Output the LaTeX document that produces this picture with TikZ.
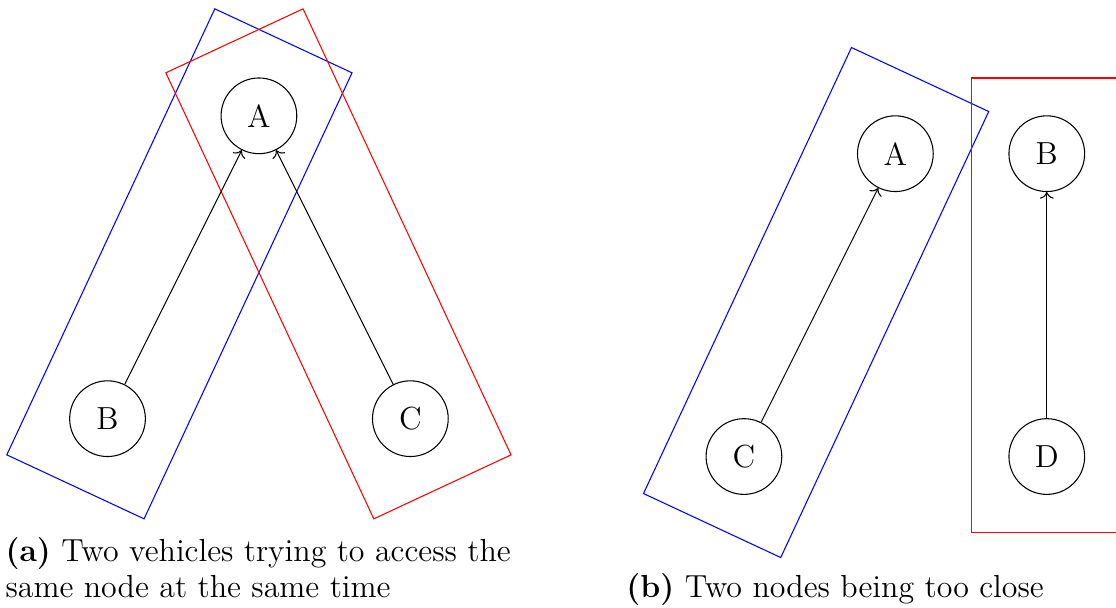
\documentclass[tikz,border=0pt]{standalone}
\usepackage{tikz}
\usetikzlibrary{arrows.meta,positioning}

\begin{document}
\begin{tikzpicture}[
    node distance=4cm and 2cm, on grid,
    vertex/.style={draw=black, circle, minimum size=1cm, inner sep=0pt, font=\fontsize{12}{14.5}\selectfont},
    arrow/.style={->},
    zoneblue/.style={draw=blue},
    zonered/.style={draw=red},
    caption/.style={inner sep=0pt, align=left, font=\fontsize{12}{13.6}\selectfont}
]
  \useasboundingbox (0,0) rectangle (14.74,8.03);

  % (a) Nodes
  \node (b1) [vertex] at (1.42,2.5) {B};
  \node (c1) [vertex, right=4cm of b1] {C};
  \node (a1) [vertex, above right=of b1] {A};

  % (a) Zones
  \draw [zoneblue, shift={(2.37,4.545)}, rotate=65] (-3.25,-1) rectangle (3.25,1);
  \draw [zonered, shift={(4.47,4.545)}, rotate=-65] (-3.25,-1) rectangle (3.25,1);

  % (a) Arrows
  \draw [arrow] (b1) -- (a1);
  \draw [arrow] (c1) -- (a1);

  % (b) Nodes
  \node (c2) [vertex] at (9.826,2.0) {C};
  \node (a2) [vertex, above right=of c2] {A};
  \node (b2) [vertex, right=2cm of a2] {B};
  \node (d2) [vertex, below=of b2] {D};

  % (b) Zones
  \draw [zoneblue, shift={(10.779,4.034)}, rotate=65] (-3.25,-1) rectangle (3.25,1);
  \draw [zonered] (12.826,1.0) rectangle (14.826,7.0);

  % (b) Arrows
  \draw [arrow] (c2) -- (a2);
  \draw [arrow] (d2) -- (b2);

  % Captions
  \node (capa) [caption, anchor=base west] at (0.066,0.136)
    {\textbf{(a)} Two vehicles trying to access the\\same node at the same time};
  \node (capb) [caption, anchor=base] at (11.03,0.136)
    {\textbf{(b)} Two nodes being too close};
\end{tikzpicture}
\end{document}
